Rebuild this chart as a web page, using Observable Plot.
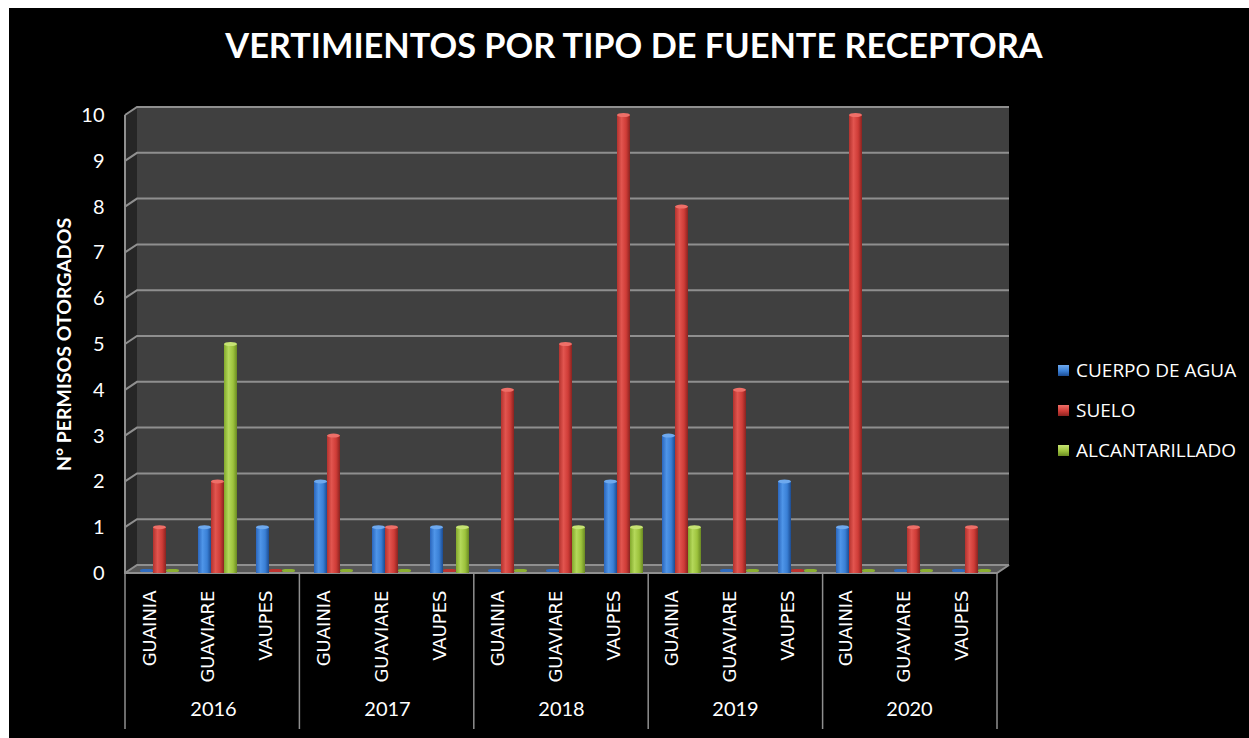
<!DOCTYPE html>
<html>
<head>
<meta charset="utf-8">
<script src="https://cdn.jsdelivr.net/npm/d3@7"></script>
<script src="https://cdn.jsdelivr.net/npm/@observablehq/plot@0.6"></script>
<style>
  html, body { margin: 0; padding: 0; background: #ffffff; }
  #bg { position: absolute; left: 9px; top: 8px; width: 1240px; height: 730px; background: #000; }
  #title { position: absolute; left: 9px; top: 25px; width: 1250px; text-align: center; color: #fff;
           font-family: Lato, sans-serif; font-weight: bold; font-size: 34.3px; line-height: 40px; white-space: nowrap; }
  #chart { position: absolute; left: 0; top: 0; }
  #legend { position: absolute; left: 1058px; top: 350px; color: #fff; font-family: "Open Sans", sans-serif; font-size: 19px; }
  .item { display: flex; align-items: center; height: 40px; line-height: 24px; }
  .sw { width: 11px; height: 11px; margin-right: 7px; box-sizing: border-box; }
</style>
</head>
<body>
<div id="bg"></div>
<div id="title">VERTIMIENTOS POR TIPO DE FUENTE RECEPTORA</div>
<div id="chart"></div>
<div id="legend"></div>
<script>
// ---- data ----
const years = ["2016", "2017", "2018", "2019", "2020"];
const departments = ["GUAINIA", "GUAVIARE", "VAUPES"];
const series = ["CUERPO DE AGUA", "SUELO", "ALCANTARILLADO"];
// values per (year, department), in order 2016 GUAINIA, 2016 GUAVIARE, 2016 VAUPES, 2017 GUAINIA, ...
const cuerpoDeAgua   = [0, 1, 1,   2, 1, 1,   0, 0, 2,    3, 0, 2,   1, 0, 0];
const suelo          = [1, 2, 0,   3, 1, 0,   4, 5, 10,   8, 4, 0,   10, 1, 1];
const alcantarillado = [0, 5, 0,   0, 0, 1,   0, 1, 1,    1, 0, 0,   0, 0, 0];
const yTickValues = [0, 1, 2, 3, 4, 5, 6, 7, 8, 9, 10];
const yLabel = "N° PERMISOS OTORGADOS";

// ---- styles ----
const gradIds = ["gA", "gS", "gL"];
const gradStops = [
  ["#2a66bd", "#4f95e8", "#3a80d6", "#1c4c92"],
  ["#b3322e", "#e2554f", "#cf3c37", "#8a2320"],
  ["#82a92c", "#b4d85a", "#9dc33d", "#6a8a22"]
];
const capColors = ["#6ea9ee", "#ee6f68", "#c6e373"];
const flatColors = ["#2f6cc0", "#c0332f", "#8cb032"];

// ---- table ----
const valuesBySeries = [cuerpoDeAgua, suelo, alcantarillado];
const keys = [];
const keyRows = [];
const rows = [];
years.forEach((yr, i) => departments.forEach((dp, j) => {
  const k = i * 3 + j;
  const key = yr + "|" + dp;
  keys.push(key);
  keyRows.push({key, year: yr, dept: dp, mid: j === 1});
  series.forEach((s, si) => rows.push({key, year: yr, dept: dp, series: s, si, value: valuesBySeries[si][k]}));
}));

const marks = [];
series.forEach((s, si) => {
  const pos = rows.filter(d => d.si === si && d.value > 0);
  const zero = rows.filter(d => d.si === si && d.value === 0);
  marks.push(Plot.barY(pos, {fx: "key", x: "series", y: "value", fill: `url(#${gradIds[si]})`}));
  marks.push(Plot.barY(pos, {fx: "key", x: "series", y1: "value", y2: "value", insetTop: -2, insetBottom: -2, rx: 7, ry: 2.5, fill: capColors[si]}));
  marks.push(Plot.barY(zero, {fx: "key", x: "series", y1: "value", y2: "value", insetTop: -4, insetBottom: 1, rx: 3, fill: flatColors[si]}));
});
marks.push(Plot.text(keyRows, {fx: "key", frameAnchor: "bottom", text: "dept", rotate: -90, textAnchor: "end",
  dy: 17, fill: "#fff", fontSize: 18, fontFamily: "DejaVu Sans"}));
marks.push(Plot.text(keyRows.filter(d => d.mid), {fx: "key", frameAnchor: "bottom", text: "year", dy: 142,
  fill: "#fff", fontSize: 20, fontFamily: "Lato"}));
marks.push(Plot.text([{key: keys[0], t: yLabel}], {fx: "key", frameAnchor: "left", text: "t", rotate: -90, dx: -62,
  textAnchor: "middle", fill: "#fff", fontSize: 19.5, fontWeight: "bold", fontFamily: "Lato"}));

const plot = Plot.plot({
  width: 1249,
  height: 738,
  marginLeft: 125,
  marginRight: 252,
  marginTop: 115,
  marginBottom: 165,
  style: {background: "transparent", color: "#fff", fontFamily: "Lato, sans-serif", fontSize: "20px"},
  fx: {domain: keys, padding: 0, axis: null, label: null},
  x: {domain: series, paddingInner: 0, paddingOuter: 0.68, align: 0.72, axis: null, label: null},
  y: {domain: [0, 10], ticks: yTickValues, tickSize: 0, tickPadding: 22, label: null},
  marks
});
document.getElementById("chart").appendChild(plot);

// ---- 3D walls, gridlines and category table drawn with the plot's scales ----
const svg = d3.select(plot);
const ys = plot.scale("y");
const y = d3.scaleLinear(ys.domain, ys.range);
const fxs = plot.scale("fx");
const fx = d3.scaleBand(fxs.domain, fxs.range).paddingInner(fxs.paddingInner || 0).paddingOuter(fxs.paddingOuter || 0);
const x0 = fxs.range[0], x1 = fxs.range[1];
const dxw = 12, dyw = -8;
const yTop = y(10), yBot = y(0);

const defs = svg.insert("defs", ":first-child");
gradIds.forEach((id, i) => {
  const g = defs.append("linearGradient").attr("id", id).attr("x1", "0%").attr("x2", "100%").attr("y1", "0%").attr("y2", "0%");
  [0, 0.35, 0.7, 1].forEach((o, j) => g.append("stop").attr("offset", o).attr("stop-color", gradStops[i][j]));
});

const bg = svg.insert("g", "defs + *");
bg.append("rect").attr("x", x0 + dxw).attr("y", yTop + dyw).attr("width", x1 - x0).attr("height", yBot - yTop).attr("fill", "#404040");
bg.append("path").attr("d", `M${x0},${yTop}L${x0 + dxw},${yTop + dyw}L${x0 + dxw},${yBot + dyw}L${x0},${yBot}Z`).attr("fill", "#262626");
bg.append("path").attr("d", `M${x0},${yBot}L${x0 + dxw},${yBot + dyw}L${x1 + dxw},${yBot + dyw}L${x1},${yBot}Z`).attr("fill", "#575757");
yTickValues.forEach(v => {
  const yy = y(v);
  bg.append("path").attr("d", `M${x0},${yy}L${x0 + dxw},${yy + dyw}L${x1 + dxw},${yy + dyw}`)
    .attr("fill", "none").attr("stroke", "#8f8f8f").attr("stroke-width", 2);
});
bg.append("path").attr("d", `M${x0},${yTop}L${x0},${yBot}L${x1},${yBot}L${x1 + dxw},${yBot + dyw}`)
  .attr("fill", "none").attr("stroke", "#8f8f8f").attr("stroke-width", 2);

const seps = svg.append("g");
const sepX = years.map((yr, i) => fx(keys[i * 3])).concat([x1]);
sepX.forEach(xx => seps.append("line").attr("x1", xx).attr("x2", xx).attr("y1", yBot).attr("y2", 729)
  .attr("stroke", "#8f8f8f").attr("stroke-width", 1.5));

// ---- legend ----
const legend = document.getElementById("legend");
series.forEach((s, i) => {
  const item = document.createElement("div");
  item.className = "item";
  const sw = document.createElement("div");
  sw.className = "sw";
  sw.style.background = `linear-gradient(180deg, ${capColors[i]} 0%, ${gradStops[i][2]} 55%, ${gradStops[i][3]} 100%)`;
  const t = document.createElement("span");
  t.textContent = s;
  item.appendChild(sw);
  item.appendChild(t);
  legend.appendChild(item);
});
</script>
</body>
</html>
